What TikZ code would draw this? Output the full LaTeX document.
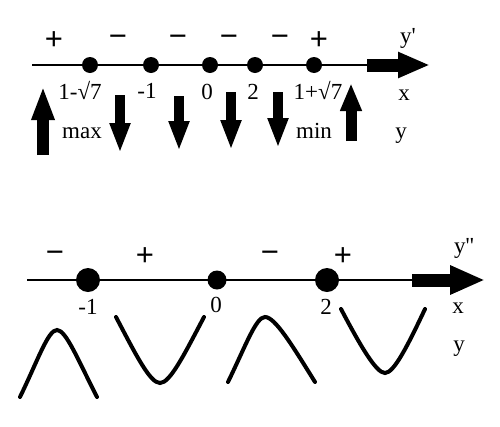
\documentclass[tikz,border=0pt]{standalone}
\usepackage{fontspec}
\setmainfont{Liberation Serif}
\newfontfamily\signfont{Liberation Sans}
\usetikzlibrary{arrows.meta}
\usetikzlibrary{positioning}
\tikzstyle{base} = [inner sep=0pt, anchor=base, font=\fontsize{23}{26}\selectfont]
\tikzstyle{sign} = [inner sep=0pt, font=\signfont\fontsize{31}{34}\selectfont]
\tikzstyle{dot} = [circle, fill=black, inner sep=0pt, minimum size=16pt]
\tikzstyle{bigdot} = [dot, minimum size=24pt]
\tikzstyle{axis} = [line width=2pt]
\tikzstyle{axisarrow} = [line width=13pt, -{Triangle[width=24pt,length=32pt]}]
\tikzstyle{fat} = [line width=10pt, -{Triangle[width=19pt,length=30pt]}]
\tikzstyle{curve} = [line width=4pt, line cap=round]

\begin{document}
\begin{tikzpicture}[x=1pt, y=-1pt]
    \useasboundingbox (0,0) rectangle (500,426);

    % first derivative
    \coordinate (a0) at (32,65);
    \coordinate (a1) at (367,65);
    \coordinate (a2) at (430,65);
    \draw[axis] (a0) -- (a1);
    \draw[axisarrow] (a1) -- (a2);
    \node (p1) [dot] at (90,65) {};
    \node (p2) [dot] at (151,65) {};
    \node (p3) [dot] at (210,65) {};
    \node (p4) [dot] at (255,65) {};
    \node (p5) [dot] at (314,65) {};

    \node (s1) [sign] at (54,41) {+};
    \node (s2) [sign] at (118,41) {−};
    \node (s3) [sign] at (178,41) {−};
    \node (s4) [sign] at (229,41) {−};
    \node (s5) [sign] at (280,41) {−};
    \node (s6) [sign] at (319,41) {+};

    \node (dy) [base] at (408,43) {y\textquotesingle};
    \node (l1) [base] at (80,99) {1-√7};
    \node (l2) [base] at (147,98) {-1};
    \node (l3) [base] at (207,99) {0};
    \node (l4) [base] at (253,99) {2};
    \node (l5) [base] at (318,99) {1+√7};
    \node (lx) [base] at (404,100) {x};
    \node (max) [base] at (82,138) {max};
    \node (min) [base] at (314,138) {min};
    \node (ly) [base] at (401,138) {y};

    \draw[fat, line width=12pt, -{Triangle[width=21pt,length=34pt]}] (43,155) -- (43,86);
    \draw[fat] (120,95) -- (120,153);
    \draw[fat] (179,96) -- (179,151);
    \draw[fat] (231,92) -- (231,150);
    \draw[fat] (278,92) -- (278,148);
    \draw[fat, line width=11pt, -{Triangle[width=20pt,length=28pt]}] (351,141) -- (351,83);

    % second derivative
    \coordinate (b0) at (27,280);
    \coordinate (b1) at (412,280);
    \coordinate (b2) at (485,280);
    \draw[axis] (b0) -- (b1);
    \draw[axisarrow, -{Triangle[width=27pt,length=35pt]}] (b1) -- (b2);
    \node (q1) [bigdot] at (88,280) {};
    \node (q2) [dot, minimum size=19pt] at (217,280) {};
    \node (q3) [bigdot] at (327,280) {};

    \node (t1) [sign] at (55,257) {−};
    \node (t2) [sign] at (145,257) {+};
    \node (t3) [sign] at (270,257) {−};
    \node (t4) [sign] at (343,257) {+};

    \node (ddy) [base] at (464,253) {y\textquotesingle\textquotesingle};
    \node (m1) [base] at (88,314) {-1};
    \node (m2) [base] at (216,312) {0};
    \node (m3) [base] at (326,314) {2};
    \node (mx) [base] at (458,313) {x};
    \node (my) [base] at (459,351) {y};

    \draw[curve] (20,397) .. controls (38,360) and (48,330) .. (57,330) .. controls (66,330) and (78,360) .. (97,397);
    \draw[curve] (116,317) .. controls (136,355) and (150,383) .. (160,383) .. controls (170,383) and (184,355) .. (204,317);
    \draw[curve] (228,382) .. controls (246,345) and (256,317) .. (265,317) .. controls (275,317) and (292,345) .. (315,382);
    \draw[curve] (341,309) .. controls (360,345) and (376,373) .. (385,373) .. controls (394,373) and (408,345) .. (425,309);
\end{tikzpicture}
\end{document}
